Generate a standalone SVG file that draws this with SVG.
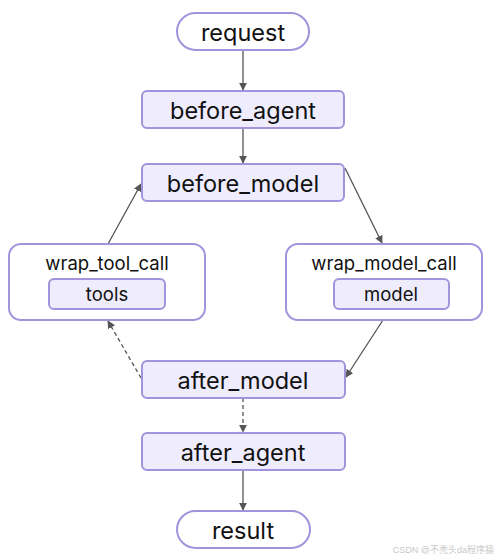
<svg xmlns="http://www.w3.org/2000/svg" width="500" height="560" viewBox="0 0 500 560">
<style>
.n{fill:#EEECFD;stroke:#A393DC;stroke-width:2}
.t{fill:#EEECFD;stroke:#A393DC;stroke-width:2}
.w{fill:#FFFFFF;stroke:#A393DC;stroke-width:2}
.l{font-family:Inter,"Liberation Sans",sans-serif;fill:#111;text-anchor:middle;dominant-baseline:central}
.big{font-size:23.5px}
.sm{font-size:18.5px}
.e{fill:none;stroke:#555;stroke-width:1.3}
.d{stroke-dasharray:4 3}
</style>
<defs>
<marker id="a" viewBox="0 0 10 10" refX="9" refY="5" markerWidth="8" markerHeight="8" markerUnits="userSpaceOnUse" orient="auto">
<path d="M0,0 L10,5 L0,10 z" fill="#555"/>
</marker>
</defs>
<rect width="500" height="560" fill="#fff"/>
<g id="connectors">
<line class="e" x1="243" y1="50" x2="243" y2="90" marker-end="url(#a)"/>
<line class="e" x1="243" y1="128" x2="243" y2="163" marker-end="url(#a)"/>
<line class="e" x1="345" y1="168" x2="382" y2="243" marker-end="url(#a)"/>
<line class="e" x1="108" y1="244" x2="141" y2="184" marker-end="url(#a)"/>
<line class="e" x1="383" y1="320" x2="346" y2="377" marker-end="url(#a)"/>
<line class="e d" x1="141" y1="378" x2="108" y2="321" marker-end="url(#a)"/>
<line class="e d" x1="243" y1="398" x2="243" y2="432" marker-end="url(#a)"/>
<line class="e" x1="243" y1="470" x2="243" y2="510" marker-end="url(#a)"/>
</g>
<g id="request">
<rect class="w" x="177" y="13" width="132" height="37" rx="18.5"/>
<text class="l big" x="243" y="32">request</text>
</g>
<g id="before_agent">
<rect class="n" x="142" y="91" width="202" height="37" rx="5"/>
<text class="l big" x="243" y="110">before_agent</text>
</g>
<g id="before_model">
<rect class="n" x="142" y="164" width="202" height="37" rx="5"/>
<text class="l big" x="243" y="183">before_model</text>
</g>
<g id="wrap_tool_call">
<rect class="w" x="9" y="244" width="196" height="76" rx="12"/>
<text class="l sm" x="107" y="263">wrap_tool_call</text>
<g id="tools">
<rect class="t" x="49" y="279" width="116" height="30" rx="5"/>
<text class="l sm" x="107" y="294">tools</text>
</g>
</g>
<g id="wrap_model_call">
<rect class="w" x="286" y="244" width="196" height="76" rx="12"/>
<text class="l sm" x="384" y="263">wrap_model_call</text>
<g id="model">
<rect class="t" x="334" y="279" width="115" height="30" rx="5"/>
<text class="l sm" x="391" y="294">model</text>
</g>
</g>
<g id="after_model">
<rect class="n" x="142" y="361" width="203" height="37" rx="5"/>
<text class="l big" x="243" y="380">after_model</text>
</g>
<g id="after_agent">
<rect class="n" x="142" y="433" width="203" height="37" rx="5"/>
<text class="l big" x="243" y="452">after_agent</text>
</g>
<g id="result">
<rect class="w" x="177" y="511" width="133" height="37" rx="18.5"/>
<text class="l big" x="243" y="530">result</text>
</g>
<text x="494" y="553" font-family="'Liberation Sans','Noto Sans CJK SC',sans-serif" font-size="9" fill="#c8c8c8" text-anchor="end">CSDN @不秃头da程序猿</text>
</svg>
